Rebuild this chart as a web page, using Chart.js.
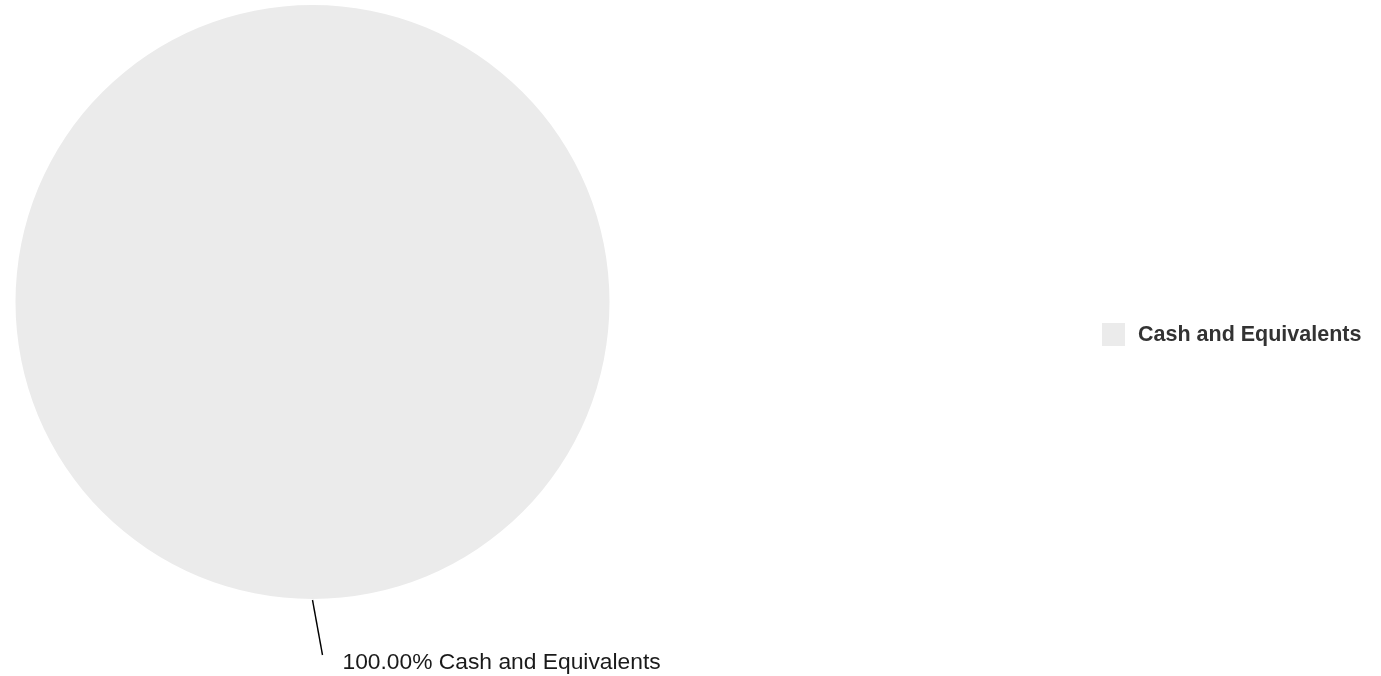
<!DOCTYPE html>
<html>
<head>
<meta charset="utf-8">
<script src="https://cdn.jsdelivr.net/npm/chart.js@4.4.1/dist/chart.umd.min.js"></script>
<style>
  html, body { margin: 0; padding: 0; background: #ffffff; }
  #wrap { width: 1381px; height: 676px; position: relative; }
</style>
</head>
<body>
<div id="wrap"><canvas id="c"></canvas></div>
<script>
const categories = ["Cash and Equivalents"];
const weights = [100.00];
const sliceColors = ["#ebebeb"];

const sliceLabels = {
  id: 'sliceLabels',
  afterDatasetsDraw(chart) {
    const ctx = chart.ctx;
    const meta = chart.getDatasetMeta(0);
    meta.data.forEach((arc, i) => {
      const p = arc.getProps(['x', 'y', 'startAngle', 'endAngle', 'outerRadius'], true);
      const mid = (p.startAngle + p.endAngle) / 2;
      const ax = p.x + Math.cos(mid) * (p.outerRadius + 1);
      const ay = p.y + Math.sin(mid) * (p.outerRadius + 1);
      const bx = ax + 10, by = ay + 55;
      ctx.save();
      ctx.strokeStyle = '#000000';
      ctx.lineWidth = 1.4;
      ctx.beginPath();
      ctx.moveTo(ax, ay);
      ctx.lineTo(bx, by);
      ctx.stroke();
      ctx.fillStyle = '#1a1a1a';
      ctx.font = '22.8px "Liberation Sans", Arial, sans-serif';
      ctx.textBaseline = 'alphabetic';
      ctx.textAlign = 'left';
      ctx.fillText(weights[i].toFixed(2) + '% ' + categories[i], bx + 20, by + 14);
      ctx.restore();
    });
  }
};

const sideLegend = {
  id: 'sideLegend',
  afterDraw(chart) {
    const ctx = chart.ctx;
    ctx.save();
    categories.forEach((name, i) => {
      const x = 1102, y = 323 + i * 34;
      ctx.fillStyle = sliceColors[i];
      ctx.fillRect(x, y, 23, 23);
      ctx.fillStyle = '#333333';
      ctx.font = 'bold 21.5px "Liberation Sans", Arial, sans-serif';
      ctx.textBaseline = 'middle';
      ctx.textAlign = 'left';
      ctx.fillText(name, x + 36, y + 12.5);
    });
    ctx.restore();
  }
};

new Chart(document.getElementById('c'), {
  type: 'pie',
  data: {
    labels: categories,
    datasets: [{
      data: weights,
      backgroundColor: sliceColors,
      borderWidth: 0
    }]
  },
  options: {
    responsive: true,
    maintainAspectRatio: false,
    animation: false,
    layout: { padding: { top: 5, bottom: 77, left: 15.5, right: 771.5 } },
    plugins: {
      legend: { display: false },
      tooltip: { enabled: false }
    }
  },
  plugins: [sliceLabels, sideLegend]
});
</script>
</body>
</html>
